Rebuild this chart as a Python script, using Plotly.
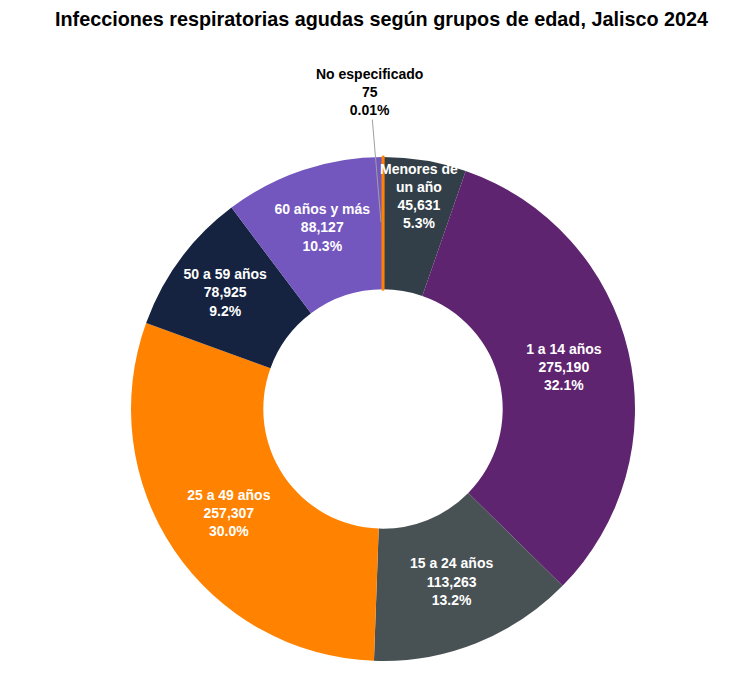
import plotly.graph_objects as go

# Datos: infecciones respiratorias agudas por grupo de edad, Jalisco 2024
grupos = ['No especificado', 'Menores de<br>un año', '1 a 14 años', '15 a 24 años',
          '25 a 49 años', '50 a 59 años', '60 años y más']
casos = [75, 45631, 275190, 113263, 257307, 78925, 88127]
colores = ['#FF8200', '#333F48', '#5F2470', '#485154', '#FF8200', '#152340', '#7356BE']

transparente = ['rgba(0,0,0,0)'] * len(grupos)
fuente = 'Liberation Sans, Arial'

base = dict(labels=grupos, values=casos, hole=0.475, sort=False,
            direction='clockwise', rotation=0, showlegend=False)

fig = go.Figure()

# Dona principal (solo rellenos)
fig.add_trace(go.Pie(
    **base,
    marker=dict(colors=colores, line=dict(width=0)),
    textinfo='none',
))

# Capa para que la rebanada de "No especificado" se vea (es muy delgada)
fig.add_trace(go.Pie(
    **base,
    marker=dict(colors=['#FF8200'] + transparente[1:],
                line=dict(color=['#FF8200'] + transparente[1:],
                          width=[3, 0, 0, 0, 0, 0, 0])),
    textinfo='none',
    hoverinfo='skip',
))

# Etiquetas encima de todo
fig.add_trace(go.Pie(
    **base,
    marker=dict(colors=transparente, line=dict(width=0)),
    texttemplate=[''] + ['%{label}<br>%{value:,}<br>%{percent:.1%}'] * 6,
    textposition='inside',
    insidetextorientation='horizontal',
    insidetextfont=dict(color='white', size=14, family=fuente, weight='bold'),
    hoverinfo='skip',
))

fig.add_annotation(
    x=0.496, y=0.871, xref='paper', yref='paper',
    text='No especificado<br>75<br>0.01%',
    showarrow=True, arrowhead=0, arrowwidth=1, arrowcolor='#A0A0A0',
    ax=-11, ay=-130,
    font=dict(size=14, color='black', family=fuente, weight='bold'),
)

fig.update_layout(
    title=dict(
        text='Infecciones respiratorias agudas según grupos de edad, Jalisco 2024',
        x=0.5, xanchor='center', y=0.994, yanchor='top',
        font=dict(size=19.8, color='black', family=fuente, weight='bold'),
    ),
    uniformtext=dict(mode='show', minsize=14),
    width=747, height=674,
    margin=dict(l=123, r=120, t=149, b=21),
    paper_bgcolor='white',
    plot_bgcolor='white',
)

fig.write_html('out.html')
